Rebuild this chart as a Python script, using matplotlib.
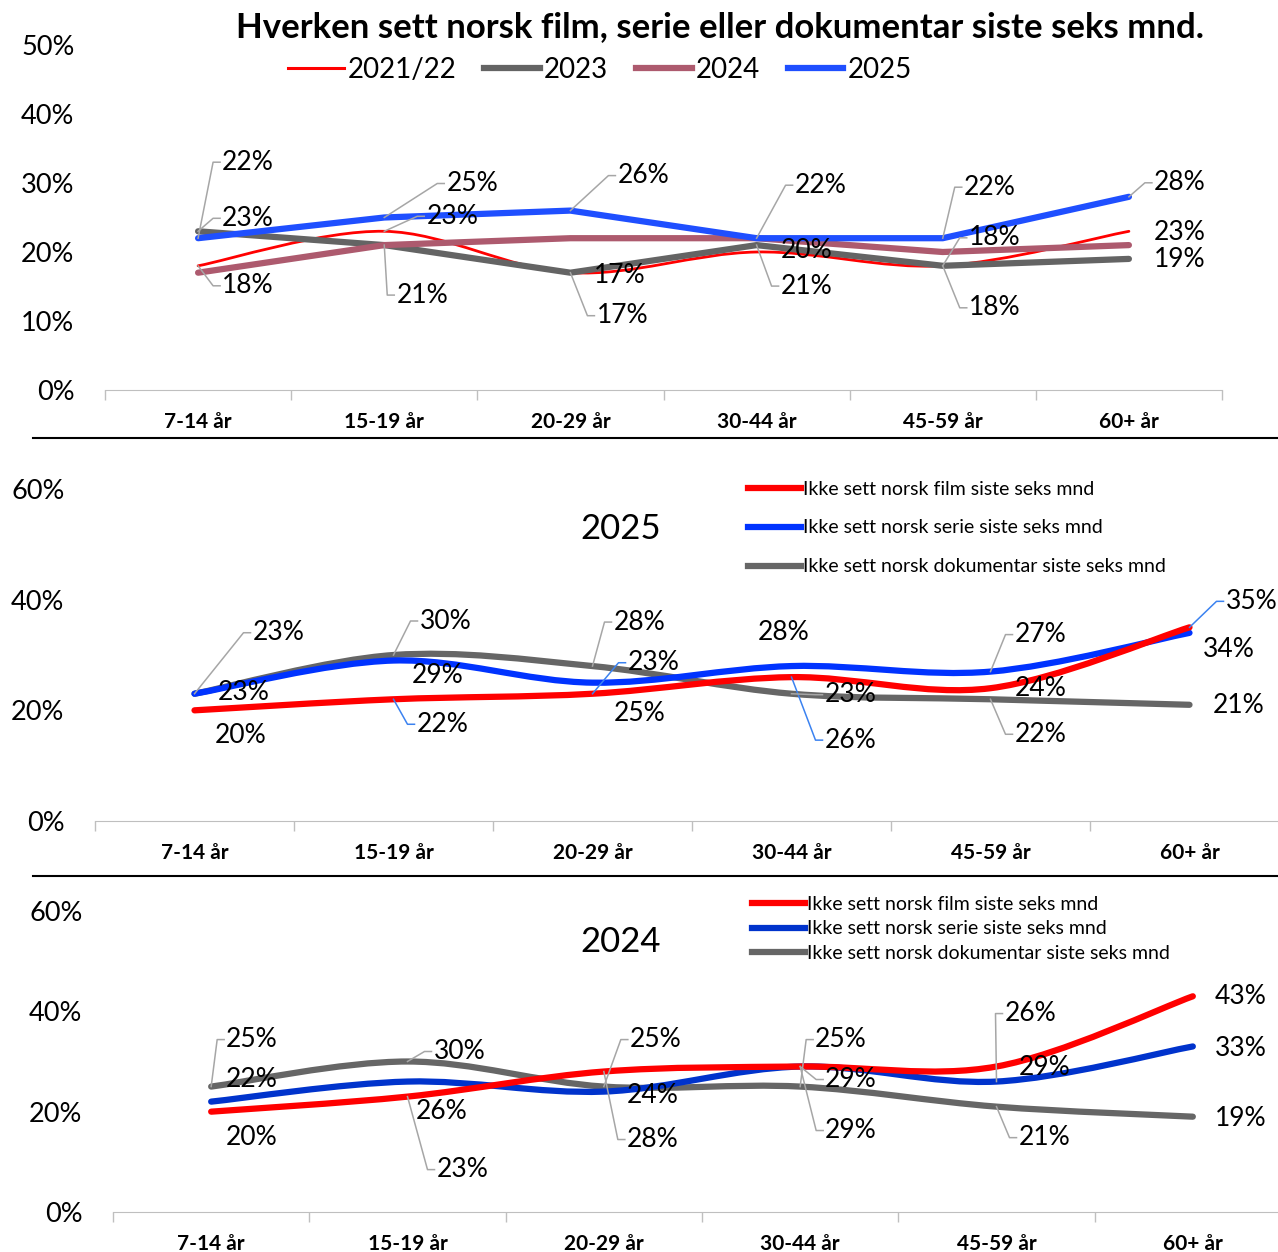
import numpy as np
import matplotlib.pyplot as plt
from matplotlib.path import Path
from matplotlib.patches import PathPatch
from matplotlib.lines import Line2D

plt.rcParams['font.family'] = ['Lato', 'DejaVu Sans']

W, H = 1278, 1252

groups = ['7-14 år', '15-19 år', '20-29 år', '30-44 år', '45-59 år', '60+ år']

# hverken film, serie eller dokumentar
neither_2122 = [18, 23, 17, 20, 18, 23]
neither_2023 = [23, 21, 17, 21, 18, 19]
neither_2024 = [17, 21, 22, 22, 20, 21]
neither_2025 = [22, 25, 26, 22, 22, 28]

film_2025 = [20, 22, 23, 26, 24, 35]
serie_2025 = [23, 29, 25, 28, 27, 34]
dok_2025 = [23, 30, 28, 23, 22, 21]

film_2024 = [20, 23, 28, 29, 29, 43]
serie_2024 = [22, 26, 24, 29, 26, 33]
dok_2024 = [25, 30, 25, 25, 21, 19]

LEAD_GRAY = '#A6A6A6'
LEAD_BLUE = '#3B82F0'

fig = plt.figure(figsize=(W / 100, H / 100), dpi=100)


def px_axes(left, top, right, bottom):
    return fig.add_axes([left / W, 1 - bottom / H, (right - left) / W, (bottom - top) / H])


def style_axes(ax, ymax, step, pad):
    ax.set_xlim(-0.5, 5.5)
    ax.set_ylim(0, ymax)
    ax.set_yticks(range(0, ymax + 1, step))
    ax.set_yticklabels([f'{t}%' for t in range(0, ymax + 1, step)], fontsize=19.5)
    ax.set_xticks(range(6))
    ax.set_xticklabels(groups, fontsize=15, fontweight='bold')
    ax.set_xticks(np.arange(-0.5, 6), minor=True)
    ax.tick_params(axis='y', length=0, pad=pad)
    ax.tick_params(axis='x', which='major', length=0, pad=16)
    ax.tick_params(axis='x', which='minor', length=7, color='#BFBFBF', width=1)
    for s in ['top', 'right', 'left']:
        ax.spines[s].set_visible(False)
    ax.spines['bottom'].set_color('#BFBFBF')
    ax.patch.set_alpha(0)


def smooth_path(vals):
    pts = np.column_stack([np.arange(len(vals)), vals]).astype(float)
    ext = np.vstack([pts[0], pts, pts[-1]])
    verts, codes = [pts[0]], [Path.MOVETO]
    for i in range(len(pts) - 1):
        p0, p1, p2, p3 = ext[i], ext[i + 1], ext[i + 2], ext[i + 3]
        verts += [p1 + (p2 - p0) / 6, p2 - (p3 - p1) / 6, p2]
        codes += [Path.CURVE4] * 3
    return Path(verts, codes)


def smooth_line(ax, vals, color, lw):
    ax.add_patch(PathPatch(smooth_path(vals), fill=False, edgecolor=color, lw=lw,
                           capstyle='round', joinstyle='round'))


def put_labels(ax, vals, offsets, lead_color=LEAD_GRAY):
    inv = fig.transFigure.inverted()
    for i, (v, (dx, dy, lead)) in enumerate(zip(vals, offsets)):
        ax.annotate(f'{v}%', (i, v), xytext=(dx, dy), textcoords='offset pixels',
                    ha='left', va='center', fontsize=19, zorder=5)
        if lead:
            px, py = ax.transData.transform((i, v))
            pts = inv.transform(np.array([[px, py], [px + dx - 9, py + dy], [px + dx - 2, py + dy]]))
            fig.add_artist(Line2D(pts[:, 0], pts[:, 1], transform=fig.transFigure,
                                  color=lead_color, lw=1.1, zorder=4))


# --- panel 1: hverken ---
ax1 = px_axes(105, 45, 1222, 390)
style_axes(ax1, 50, 10, 22)
x = np.arange(6)
smooth_line(ax1, neither_2122, '#FF0000', 2.0)
ax1.plot(x, neither_2023, color='#646464', lw=4.5, solid_capstyle='round')
ax1.plot(x, neither_2024, color='#AD5A6E', lw=4.5, solid_capstyle='round')
ax1.plot(x, neither_2025, color='#1F4FFF', lw=4.5, solid_capstyle='round')

put_labels(ax1, neither_2025, [(24, 76, 1), (62, 34, 1), (47, 35, 1), (38, 53, 1), (21, 51, 1), (25, 14, 1)])
put_labels(ax1, neither_2122, [(24, -20, 1), (42, 15, 1), (23, -3, 0), (24, 1, 0), (26, 28, 1), (25, -1, 0)])
put_labels(ax1, neither_2023, [(24, 13, 1), (12, -50, 1), (26, -43, 1), (24, -41, 1), (26, -42, 1), (25, -1, 0)])

fig.text(720 / W, 1 - 27 / H, 'Hverken sett norsk film, serie eller dokumentar siste seks mnd.',
         ha='center', va='center', fontsize=25, fontweight='bold')
top_handles = [Line2D([], [], color='#FF0000', lw=2.2),
               Line2D([], [], color='#646464', lw=4.5),
               Line2D([], [], color='#AD5A6E', lw=4.5),
               Line2D([], [], color='#1F4FFF', lw=4.5)]
fig.legend(top_handles, ['2021/22', '2023', '2024', '2025'], loc='center',
           bbox_to_anchor=(600 / W, 1 - 70 / H), ncol=4, frameon=False, fontsize=20,
           handlelength=2.0, handletextpad=0.15, columnspacing=1.0)

# --- panel 2: 2025 ---
ax2 = px_axes(95, 489, 1289, 821)
style_axes(ax2, 60, 20, 22)
smooth_line(ax2, dok_2025, '#666666', 4.5)
smooth_line(ax2, serie_2025, '#0033FF', 4.5)
smooth_line(ax2, film_2025, '#FF0000', 4.5)

put_labels(ax2, film_2025, [(20, -25, 0), (23, -25, 1), (35, 31, 1), (33, -63, 1), (24, 0, 0), (36, 26, 1)],
           LEAD_BLUE)
put_labels(ax2, serie_2025, [(23, 1, 0), (18, -15, 0), (21, -31, 0), (-34, 34, 0), (24, 37, 1), (13, -17, 0)])
put_labels(ax2, dok_2025, [(58, 61, 1), (26, 34, 1), (21, 44, 1), (33, -1, 1), (24, -35, 1), (23, -1, 0)])

fig.text(621 / W, 1 - 529 / H, '2025', ha='center', va='center', fontsize=25)
leg_labels = ['Ikke sett norsk film siste seks mnd', 'Ikke sett norsk serie siste seks mnd',
              'Ikke sett norsk dokumentar siste seks mnd']
fig.legend([Line2D([], [], color='#FF0000', lw=4.5),
            Line2D([], [], color='#0033FF', lw=4.5),
            Line2D([], [], color='#666666', lw=4.5)], leg_labels,
           loc='center left', bbox_to_anchor=(748 / W, 1 - 528 / H), frameon=False, fontsize=14,
           handlelength=2.7, handletextpad=0.15, labelspacing=1.13, borderpad=0, borderaxespad=0)

# --- panel 3: 2024 ---
ax3 = px_axes(113, 911, 1291, 1212)
style_axes(ax3, 60, 20, 22)
smooth_line(ax3, dok_2024, '#666666', 4.5)
smooth_line(ax3, serie_2024, '#0033CC', 4.5)
smooth_line(ax3, film_2024, '#FF0000', 4.5)

put_labels(ax3, film_2024, [(15, -26, 0), (29, -73, 1), (23, -68, 1), (25, -13, 1), (22, -1, 0), (22, 0, 0)])
put_labels(ax3, serie_2024, [(15, 22, 0), (8, -30, 0), (23, -4, 0), (25, -64, 1), (8, 68, 1), (22, -2, 0)])
put_labels(ax3, dok_2024, [(15, 47, 1), (26, 10, 1), (26, 47, 1), (15, 47, 1), (22, -31, 1), (22, -2, 0)])

fig.text(621 / W, 1 - 942 / H, '2024', ha='center', va='center', fontsize=25)
fig.legend([Line2D([], [], color='#FF0000', lw=4.5),
            Line2D([], [], color='#0033CC', lw=4.5),
            Line2D([], [], color='#666666', lw=4.5)], leg_labels,
           loc='center left', bbox_to_anchor=(752 / W, 1 - 929 / H), frameon=False, fontsize=14,
           handlelength=2.7, handletextpad=0.15, labelspacing=0.38, borderpad=0, borderaxespad=0)

# skillelinjer mellom panelene
for yy in (438, 876):
    fig.add_artist(Line2D([33 / W, 1], [1 - yy / H] * 2, color='black', lw=1.5))

fig.savefig('out.png', dpi=100)
